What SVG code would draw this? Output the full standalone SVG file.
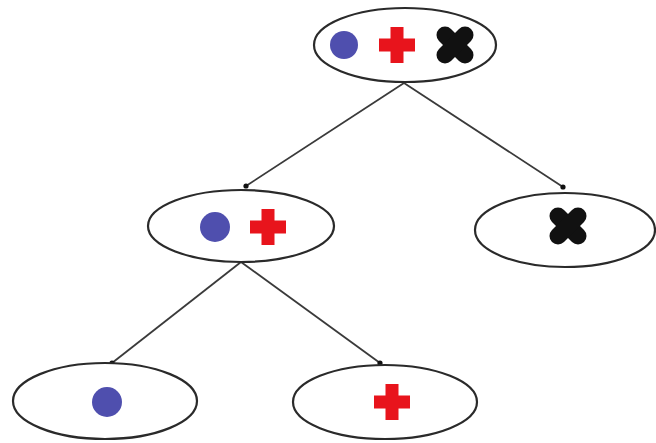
<svg xmlns="http://www.w3.org/2000/svg" width="656" height="443" viewBox="0 0 656 443">
<defs>
<style>
.node{fill:#fff;stroke:#2a2a2a;stroke-width:2.2}
.edge{fill:none;stroke:#3a3a3a;stroke-width:1.8;marker-end:url(#dot)}
.blue{fill:#4f4fae}
.red{fill:#e8141c}
.x{stroke:#111;stroke-width:17;stroke-linecap:round}
</style>
<marker id="dot" viewBox="0 0 6 6" refX="3" refY="3" markerWidth="6" markerHeight="6" markerUnits="userSpaceOnUse">
<circle cx="3" cy="3" r="2.6" fill="#111"/>
</marker>
<path id="plus" d="M-6.5,-18 H6.5 V-6.5 H18 V6.5 H6.5 V18 H-6.5 V6.5 H-18 V-6.5 H-6.5 Z"/>
<g id="xmark"><line class="x" x1="-10" y1="-10" x2="10" y2="10"/><line class="x" x1="10" y1="-10" x2="-10" y2="10"/></g>
</defs>
<rect width="656" height="443" fill="#fff"/>
<g id="edges">
<path class="edge" d="M404,83 L246,186"/>
<path class="edge" d="M404,83 L563,187"/>
<path class="edge" d="M241,262 L112,363"/>
<path class="edge" d="M241,262 L380,363"/>
</g>
<g id="root">
<ellipse class="node" cx="405" cy="45" rx="91" ry="37"/>
<circle class="blue" cx="344" cy="45" r="14"/>
<use href="#plus" class="red" x="397" y="45"/>
<use href="#xmark" x="455" y="45"/>
</g>
<g id="mid-left">
<ellipse class="node" cx="241" cy="226" rx="93" ry="36"/>
<circle class="blue" cx="215" cy="227" r="15"/>
<use href="#plus" class="red" x="268" y="227"/>
</g>
<g id="mid-right">
<ellipse class="node" cx="565" cy="230" rx="90" ry="37"/>
<use href="#xmark" x="568" y="226"/>
</g>
<g id="leaf-left">
<ellipse class="node" cx="105" cy="401" rx="92" ry="38"/>
<circle class="blue" cx="107" cy="402" r="15"/>
</g>
<g id="leaf-right">
<ellipse class="node" cx="385" cy="402" rx="92" ry="37"/>
<use href="#plus" class="red" x="392" y="402"/>
</g>
</svg>
